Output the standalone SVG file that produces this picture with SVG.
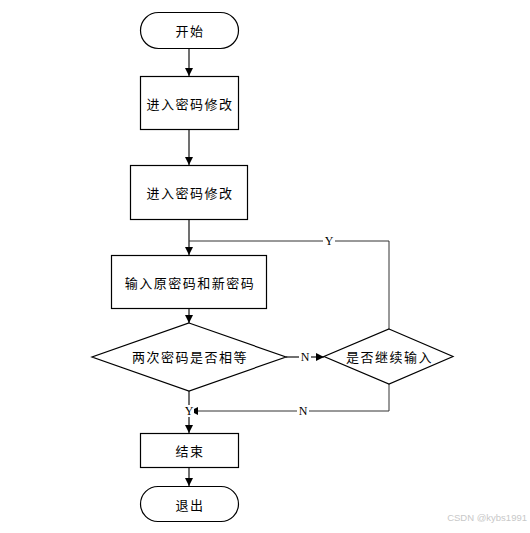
<svg xmlns="http://www.w3.org/2000/svg" width="530" height="533" viewBox="0 0 530 533">
<defs>
<marker id="ah" viewBox="0 0 10 10" refX="10" refY="5" markerWidth="8" markerHeight="8" markerUnits="userSpaceOnUse" orient="auto">
<path d="M0,0 L10,5 L0,10 Z" fill="#000"/>
</marker>
</defs>
<style>
.n{fill:#fff;stroke:#000;stroke-width:1.2}
.t{font-family:"Noto Sans CJK SC","Noto Sans",sans-serif;font-size:13px;letter-spacing:1.5px;fill:#000;text-anchor:middle;dominant-baseline:central}
.c{fill:none;stroke:#404040;stroke-width:1.5}
.c2{fill:none;stroke:#333;stroke-width:1}
.l{font-family:"Liberation Serif",serif;font-size:12px;fill:#000;text-anchor:middle;dominant-baseline:central}
.lb{fill:#fff}
</style>
<rect width="530" height="533" fill="#fff"/>
<g id="connectors">
<line class="c" x1="189" y1="49" x2="189" y2="76" marker-end="url(#ah)"/>
<line class="c" x1="189" y1="130" x2="189" y2="165" marker-end="url(#ah)"/>
<line class="c" x1="189" y1="220" x2="189" y2="255" marker-end="url(#ah)"/>
<line class="c" x1="189" y1="309" x2="189" y2="323" marker-end="url(#ah)"/>
<line class="c" x1="286" y1="357" x2="324" y2="357" marker-end="url(#ah)"/>
<polyline class="c2" points="389,329 389,241 189,241"/>
<polyline class="c2" points="389,384 389,411 190,411" marker-end="url(#ah)"/>
<line class="c" x1="189" y1="391" x2="189" y2="433" marker-end="url(#ah)"/>
<line class="c" x1="189" y1="467" x2="189" y2="486" marker-end="url(#ah)"/>
<rect class="lb" x="323" y="235" width="12" height="12"/>
<text class="l" x="329" y="241">Y</text>
<rect class="lb" x="299" y="351" width="12" height="12"/>
<text class="l" x="305" y="357">N</text>
<rect class="lb" x="297" y="405" width="12" height="12"/>
<text class="l" x="303" y="411">N</text>
<rect class="lb" x="184" y="405" width="10" height="12"/>
<text class="l" x="189" y="411">Y</text>
</g>
<g id="start">
<rect class="n" x="140.5" y="12.5" width="98" height="36" rx="18" ry="18"/>
<text class="t" x="190" y="30.5">开始</text>
</g>
<g id="box1">
<rect class="n" x="140.5" y="76.5" width="98" height="53"/>
<text class="t" x="190" y="103">进入密码修改</text>
</g>
<g id="box2">
<rect class="n" x="130.5" y="165.5" width="117" height="54"/>
<text class="t" x="190" y="192.5">进入密码修改</text>
</g>
<g id="box3">
<rect class="n" x="111.5" y="255.5" width="155" height="53"/>
<text class="t" x="190" y="282">输入原密码和新密码</text>
</g>
<g id="dec1">
<polygon class="n" points="189,323 286,357 189,391 92,357"/>
<text class="t" x="190" y="356">两次密码是否相等</text>
</g>
<g id="dec2">
<polygon class="n" points="389,329 453,356.5 389,384 324,356.5"/>
<text class="t" x="389.5" y="356">是否继续输入</text>
</g>
<g id="box4">
<rect class="n" x="140.5" y="433.5" width="98" height="34"/>
<text class="t" x="190" y="450">结束</text>
</g>
<g id="end">
<rect class="n" x="140.5" y="486.5" width="98" height="35" rx="17.5" ry="17.5"/>
<text class="t" x="190" y="504">退出</text>
</g>
<text x="527" y="521" font-family="Liberation Sans,sans-serif" font-size="9.5" fill="#c8c8c8" text-anchor="end">CSDN @kybs1991</text>
</svg>
